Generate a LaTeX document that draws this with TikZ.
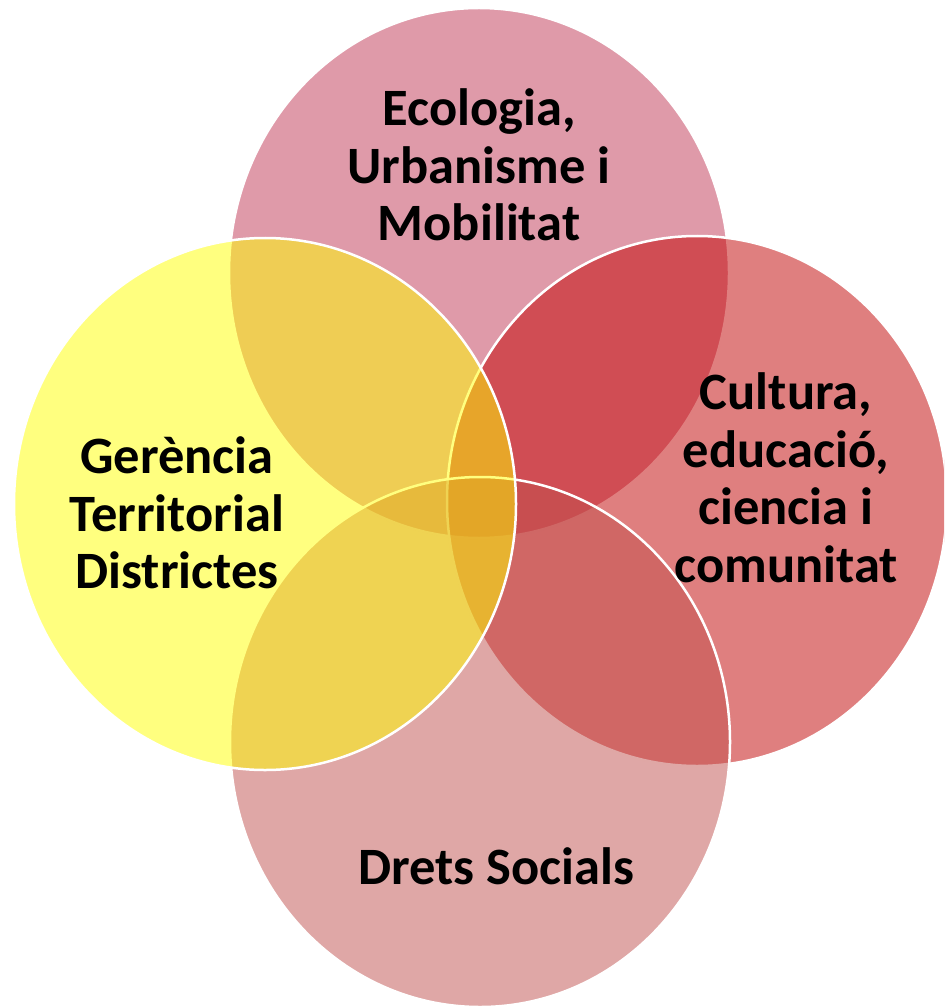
\documentclass[tikz,border=0pt]{standalone}
\usepackage{fontspec}
\setmainfont{Carlito}
\definecolor{ctop}{RGB}{192,54,84}
\definecolor{cright}{RGB}{192,0,0}
\definecolor{cbottom}{RGB}{192,80,77}
\definecolor{cleft}{RGB}{255,255,0}
\tikzset{
  venn/.style={fill opacity=0.5, draw=white, draw opacity=1, line width=2.5pt},
  lbl/.style={align=center, font=\fontsize{52.5}{57.5}\selectfont\bfseries, text=black, inner sep=0pt}
}
\begin{document}
\begin{tikzpicture}[x=1pt,y=-1pt]
\useasboundingbox (0,0) rectangle (944,1008);
\clip (0,0) rectangle (944,1008);
\path[venn, fill=ctop]    (479,273) ellipse [x radius=250, y radius=265];
\path[venn, fill=cright]  (697,501) ellipse [x radius=250, y radius=265];
\path[venn, fill=cbottom] (480,742) ellipse [x radius=250, y radius=265];
\path[venn, fill=cleft]   (265,504) ellipse [x radius=251, y radius=266];
\node[lbl] (ecol) at (479,165) {Ecologia,\\Urbanisme i\\Mobilitat};
\node[lbl] (gere) at (177,513) {Gerència\\Territorial\\Districtes};
\node[lbl] (cult) at (786,478) {Cultura,\\educació,\\ciencia i\\comunitat};
\node[lbl] (drets) at (496,866) {Drets Socials};
\end{tikzpicture}
\end{document}
